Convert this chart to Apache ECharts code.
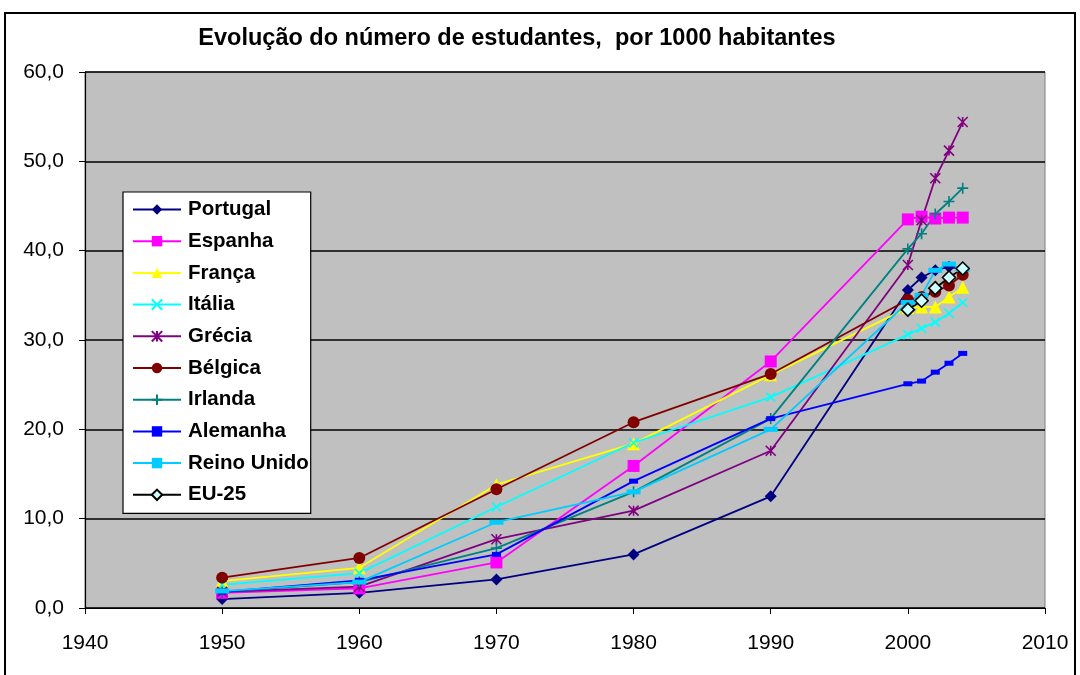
<!DOCTYPE html>
<html>
<head>
<meta charset="utf-8">
<script src="https://cdn.jsdelivr.net/npm/echarts@6/dist/echarts.min.js"></script>
<style>
  html, body { margin: 0; padding: 0; background: #fff; }
  #chart_box { width: 1080px; height: 675px; }
</style>
</head>
<body>
<div id="chart_box"></div>
<script>
// anos
var yearsOld = [1950, 1960, 1970, 1980, 1990];
var yearsNew = [2000, 2001, 2002, 2003, 2004];

// estudantes por 1000 habitantes
var portugal   = [1.0, 1.7, 3.2, 6.0, 12.5, 35.6, 37.0, 37.8, 38.2, 37.9];
var espanha    = [1.7, 2.2, 5.1, 15.9, 27.6, 43.5, 43.8, 43.6, 43.7, 43.7];
var franca     = [3.0, 4.5, 13.8, 18.4, 26.1, 33.6, 33.7, 33.7, 34.8, 35.9];
var italia     = [2.6, 3.9, 11.3, 18.5, 23.6, 30.6, 31.3, 32.0, 33.0, 34.2];
var grecia     = [1.8, 2.4, 7.7, 10.9, 17.6, 38.4, 43.4, 48.1, 51.2, 54.4];
var belgica    = [3.4, 5.6, 13.3, 20.8, 26.2, 34.5, 34.8, 35.4, 36.1, 37.3];
var irlanda    = [1.8, 2.9, 6.7, 13.0, 21.2, 40.2, 41.9, 44.1, 45.5, 47.0];
var alemanha   = [1.8, 3.1, 6.0, 14.2, 21.2, 25.1, 25.4, 26.4, 27.4, 28.5];
var reinoUnido = [1.9, 2.9, 9.6, 13.0, 20.0, 34.2, 35.0, 37.8, 38.5, 37.9];
var eu25       = [33.4, 34.4, 35.8, 37.0, 38.0];

var xTicks = [1940, 1950, 1960, 1970, 1980, 1990, 2000, 2010];

var allYears = yearsOld.concat(yearsNew);
function pairs(xs, ys) {
  return ys.map(function (v, i) { return [xs[i], v]; });
}

var symX = 'path://M0,0L10,10M10,0L0,10';
var symStar = 'path://M0,0L10,10M10,0L0,10M5,0L5,10';
var symPlus = 'path://M5,0L5,10M0,5L10,5';

function serie(name, data, color, symbol, size, opts) {
  var s = {
    name: name,
    type: 'line',
    data: data,
    symbol: symbol,
    symbolSize: size,
    showAllSymbol: true,
    lineStyle: { color: color, width: 1.8 },
    itemStyle: { color: color },
    emphasis: { disabled: true },
    z: 2
  };
  if (opts) {
    for (var k in opts) s[k] = opts[k];
  }
  return s;
}

var strokeOnly = function (color) {
  return { color: 'rgba(0,0,0,0)', borderColor: color, borderWidth: 1.6 };
};

var mycharts = echarts.init(document.getElementById('chart_box'));

var option = {
  animation: false,
  backgroundColor: '#fff',
  textStyle: { fontFamily: 'Liberation Sans, Arial, sans-serif' },
  title: {
    text: 'Evolução do número de estudantes,  por 1000 habitantes',
    left: 512,
    textAlign: 'center',
    top: 22,
    textStyle: { fontSize: 23.5, fontWeight: 'bold', color: '#000' }
  },
  grid: {
    left: 85, right: 35, top: 72, bottom: 67,
    show: true,
    backgroundColor: '#C0C0C0',
    borderColor: '#808080',
    borderWidth: 1
  },
  legend: {
    orient: 'vertical',
    left: 123,
    top: 192,
    backgroundColor: '#fff',
    borderColor: '#000',
    borderWidth: 1.2,
    padding: [7, 2, 8, 9],
    itemGap: 10.7,
    itemWidth: 48,
    itemHeight: 13,
    textStyle: { fontSize: 20.5, fontWeight: 'bold', color: '#000', padding: [0, 0, 0, 2] },
    data: ['Portugal', 'Espanha', 'França', 'Itália', 'Grécia', 'Bélgica',
           'Irlanda', 'Alemanha', 'Reino Unido', 'EU-25']
  },
  xAxis: {
    type: 'value',
    min: 1940,
    max: 2010,
    interval: 10,
    axisLine: { show: true, lineStyle: { color: '#000', width: 1.2 } },
    axisTick: { show: true, length: 6, lineStyle: { color: '#000' } },
    splitLine: { show: false },
    axisLabel: {
      fontSize: 21, color: '#000', margin: 25,
      formatter: function (v) { return xTicks.indexOf(v) >= 0 ? String(v) : ''; }
    }
  },
  yAxis: {
    type: 'value',
    min: 0,
    max: 60,
    interval: 10,
    axisLine: { show: true, lineStyle: { color: '#000', width: 1.2 } },
    axisTick: { show: true, length: 6, lineStyle: { color: '#000' } },
    splitLine: { show: true, lineStyle: { color: '#000', width: 1.5 } },
    axisLabel: {
      fontSize: 21, color: '#000', margin: 21,
      formatter: function (v) { return v.toFixed(1).replace('.', ','); }
    }
  },
  graphic: [{
    type: 'rect',
    shape: { x: 5, y: 13, width: 1070, height: 680 },
    style: { fill: 'none', stroke: '#000', lineWidth: 2 },
    silent: true,
    z: -1
  }],
  series: [
    serie('Portugal', pairs(allYears, portugal), '#000080', 'diamond', 12),
    serie('Espanha', pairs(allYears, espanha), '#FF00FF', 'rect', 12),
    serie('França', pairs(allYears, franca), '#FFFF00', 'triangle', 13),
    serie('Itália', pairs(allYears, italia), '#00FFFF', symX, 9,
      { itemStyle: strokeOnly('#00FFFF') }),
    serie('Grécia', pairs(allYears, grecia), '#800080', symStar, 10,
      { itemStyle: strokeOnly('#800080') }),
    serie('Bélgica', pairs(allYears, belgica), '#800000', 'circle', 12),
    serie('Irlanda', pairs(allYears, irlanda), '#008080', symPlus, 11,
      { itemStyle: strokeOnly('#008080') }),
    serie('Alemanha', pairs(allYears, alemanha), '#0000FF', 'rect', [9, 5]),
    serie('Reino Unido', pairs(allYears, reinoUnido), '#00CCFF', 'rect', [14, 5]),
    serie('EU-25', pairs(yearsNew, eu25), '#000000', 'diamond', 13,
      { itemStyle: { color: '#CCFFFF', borderColor: '#000', borderWidth: 1.6 },
        lineStyle: { color: '#000', width: 1.8 } })
  ]
};

mycharts.setOption(option);
</script>
</body>
</html>
